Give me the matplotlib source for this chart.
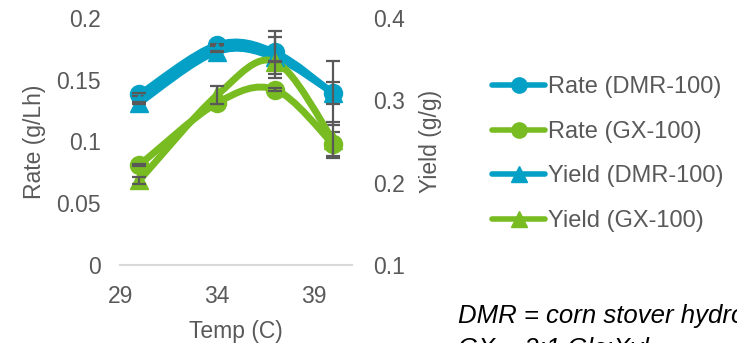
import numpy as np
import matplotlib
matplotlib.use("Agg")
import matplotlib.pyplot as plt
from matplotlib.path import Path
from matplotlib.patches import PathPatch
from matplotlib.lines import Line2D

plt.rcParams['font.family'] = ['Liberation Sans', 'DejaVu Sans']

# ---- data ----
temps = [30, 34, 37, 40]
rate_dmr = [0.138, 0.178, 0.172, 0.139]
rate_dmr_err = [0.001, 0.001, 0.0175, 0.026]
rate_gx = [0.081, 0.131, 0.142, 0.098]
rate_gx_err = [0.001, 0.001, 0.001, 0.010]
yield_dmr = [0.297, 0.359, 0.352, 0.309]
yield_dmr_err = [0.001, 0.001, 0.025, 0.013]
yield_gx = [0.203, 0.306, 0.347, 0.252]
yield_gx_err = [0.004, 0.011, 0.001, 0.022]

x_ticks = [29, 34, 39]
rate_ticks = [0, 0.05, 0.1, 0.15, 0.2]
rate_tick_labels = ['0', '0.05', '0.1', '0.15', '0.2']
yield_ticks = [0.1, 0.2, 0.3, 0.4]
yield_tick_labels = ['0.1', '0.2', '0.3', '0.4']

BLUE = '#05a0c5'
GREEN = '#78bc22'
GRAY = '#595959'
FS = 16.5


def smooth_path(xs, ys, t=1 / 6):
    """Bezier path through the points (Catmull-Rom style smoothing)."""
    pts = np.column_stack([xs, ys]).astype(float)
    n = len(pts)
    verts = [pts[0]]
    codes = [Path.MOVETO]
    for i in range(n - 1):
        p0 = pts[i - 1] if i > 0 else pts[i]
        p1 = pts[i]
        p2 = pts[i + 1]
        p3 = pts[i + 2] if i + 2 < n else pts[i + 1]
        c1 = p1 + (p2 - p0) * t
        c2 = p2 - (p3 - p1) * t
        verts += [c1, c2, p2]
        codes += [Path.CURVE4] * 3
    return Path(verts, codes)


def draw_series(ax, ys, err, color, marker):
    ax.add_patch(PathPatch(smooth_path(temps, ys), fill=False, edgecolor=color,
                           lw=5.0, capstyle='round', joinstyle='round', zorder=3))
    ax.plot(temps, ys, ls='none', marker=marker, ms=13, color=color,
            mec=color, zorder=4)
    ax.errorbar(temps, ys, yerr=err, fmt='none', ecolor=GRAY, elinewidth=1.6,
                capsize=5, capthick=1.6, zorder=5)


fig = plt.figure(figsize=(7.37, 3.43), dpi=100)
ax = fig.add_axes([0.163, 0.227, 0.315, 0.721])
ax2 = ax.twinx()

draw_series(ax, rate_dmr, rate_dmr_err, BLUE, 'o')
draw_series(ax, rate_gx, rate_gx_err, GREEN, 'o')
draw_series(ax2, yield_dmr, yield_dmr_err, BLUE, '^')
draw_series(ax2, yield_gx, yield_gx_err, GREEN, '^')

ax.set_xlim(29, 41)
ax.set_ylim(0, 0.2)
ax2.set_ylim(0.1, 0.4)
ax.set_xticks(x_ticks)
ax.set_xticklabels([str(v) for v in x_ticks])
ax.set_yticks(rate_ticks)
ax.set_yticklabels(rate_tick_labels)
ax2.set_yticks(yield_ticks)
ax2.set_yticklabels(yield_tick_labels)

for a in (ax, ax2):
    for s in a.spines.values():
        s.set_visible(False)
    a.tick_params(length=0, labelsize=FS, labelcolor=GRAY)
    a.patch.set_visible(False)
ax.tick_params(axis='y', pad=14)
ax.tick_params(axis='x', pad=14)
ax2.tick_params(axis='y', pad=15)
ax.axhline(0, color='#d9d9d9', lw=1.5, zorder=1, clip_on=False)

ax.set_xlabel('Temp (C)', fontsize=FS, color=GRAY, labelpad=9)
ax.set_ylabel('Rate (g/Lh)', fontsize=FS, color=GRAY, labelpad=7)
ax2.set_ylabel('Yield (g/g)', fontsize=FS, color=GRAY, labelpad=10)

handles = [
    Line2D([], [], color=BLUE, lw=4, marker='o', ms=11, solid_capstyle='round'),
    Line2D([], [], color=GREEN, lw=4, marker='o', ms=11, solid_capstyle='round'),
    Line2D([], [], color=BLUE, lw=4, marker='^', ms=11, solid_capstyle='round'),
    Line2D([], [], color=GREEN, lw=4, marker='^', ms=11, solid_capstyle='round'),
]
labels = ['Rate (DMR-100)', 'Rate (GX-100)', 'Yield (DMR-100)', 'Yield (GX-100)']
leg = fig.legend(handles, labels, loc='upper left', bbox_to_anchor=(0.668, 0.778),
                 frameon=False, fontsize=17, handlelength=2.25, handletextpad=0.1,
                 labelspacing=0.96, borderaxespad=0, borderpad=0)
for t in leg.get_texts():
    t.set_color(GRAY)

fig.text(0.621, 0.113, 'DMR = corn stover hydrolysate\nGX = 2:1 Glc:Xyl',
         fontsize=18.5, style='italic', color='black', ha='left', va='top',
         linespacing=1.45, transform=fig.transFigure)

fig.savefig('out.png', dpi=100)
